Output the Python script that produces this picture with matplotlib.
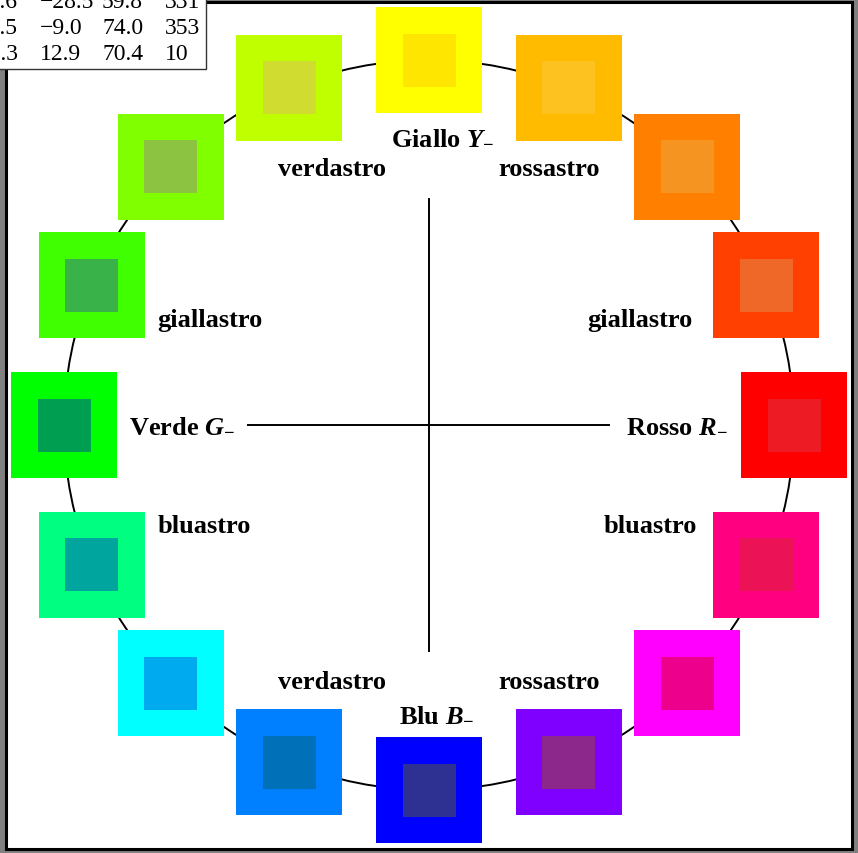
import numpy as np
import matplotlib.pyplot as plt
from matplotlib.patches import Rectangle, Circle

plt.rcParams['font.family'] = ['Liberation Serif', 'DejaVu Serif']
plt.rcParams['mathtext.fontset'] = 'custom'
plt.rcParams['mathtext.rm'] = 'Liberation Serif:bold'
plt.rcParams['mathtext.it'] = 'Liberation Serif:bold:italic'
plt.rcParams['mathtext.bf'] = 'Liberation Serif:bold'

# hue angles of the 16 samples (degrees, counter-clockwise from Rosso)
angles = [90, 67.5, 45, 22.5, 0, -22.5, -45, -67.5,
          -90, -112.5, -135, -157.5, 180, 157.5, 135, 112.5]
outer_cols = ["#ffff00", "#ffbb00", "#ff8000", "#ff4000",
              "#ff0000", "#ff0080", "#ff00ff", "#8000ff",
              "#0000ff", "#0080ff", "#00ffff", "#00ff80",
              "#00ff00", "#40ff00", "#80ff00", "#c0ff00"]
inner_cols = ["#ffe600", "#fdc21f", "#f69422", "#f06828",
              "#ed1c24", "#ec1256", "#ec008c", "#8c288c",
              "#2e3192", "#0070b9", "#00aaee", "#00a69d",
              "#009e50", "#39b24a", "#8cc341", "#d0dc30"]

# labels: text, x, y
lab_text = ["Giallo $Y_{-}$", "verdastro", "rossastro", "giallastro", "giallastro",
            "Verde $G_{-}$", "Rosso $R_{-}$", "bluastro", "bluastro",
            "verdastro", "rossastro", "Blu $B_{-}$"]
lab_x = [443, 332, 549, 210, 640, 182, 677, 204, 650, 332, 549, 437]
lab_y = [138, 169, 169, 321, 321, 426, 426, 527, 527, 683, 683, 715]

# table in the corner (first column partly cut off)
tab_c1 = ["52.6", "73.5", "69.3"]
tab_c2 = ["\u221228.5", "\u22129.0", "12.9"]
tab_c3 = ["59.8", "74.0", "70.4"]
tab_c4 = ["331", "353", "10"]

cx, cy, R = 429, 426, 365
S = 106

fig = plt.figure(figsize=(8.58, 8.54), dpi=100, facecolor="#808080")
ax = fig.add_axes([0, 0, 1, 1])
ax.set_xlim(0, 858)
ax.set_ylim(854, 0)
ax.axis("off")

ax.add_patch(Rectangle((5.5, 3), 846.5, 846.5, facecolor="white",
                       edgecolor="black", lw=2.2, zorder=0))

ax.add_patch(Circle((cx, cy), R, fill=False, edgecolor="black", lw=1.4, zorder=1))
ax.plot([248, 609], [cy, cy], color="black", lw=1.4, zorder=1)
ax.plot([cx, cx], [200, 652], color="black", lw=1.4, zorder=1)

for a, oc, ic in zip(angles, outer_cols, inner_cols):
    x = cx + R * np.cos(np.radians(a))
    y = cy - R * np.sin(np.radians(a))
    ax.add_patch(Rectangle((x - S / 2, y - S / 2), S, S, facecolor=oc,
                           edgecolor="none", zorder=2))
    ax.add_patch(Rectangle((x - S / 4, y - S / 4), S / 2, S / 2, facecolor=ic,
                           edgecolor="none", zorder=3))

for t, x, y in zip(lab_text, lab_x, lab_y):
    ax.text(x, y, t, fontsize=19, fontweight="bold", ha="center", va="center",
            zorder=4)

# table box
ax.add_patch(Rectangle((-5, -5), 211, 75, facecolor="white",
                       edgecolor="#333333", lw=1.0, zorder=5))
row_y = [3, 29, 55]
for i in range(3):
    ax.text(18, row_y[i], tab_c1[i], fontsize=17, ha="right", va="center", zorder=6)
    ax.text(40, row_y[i], tab_c2[i], fontsize=17, ha="left", va="center", zorder=6)
    ax.text(102, row_y[i], tab_c3[i], fontsize=17, ha="left", va="center", zorder=6)
    ax.text(165, row_y[i], tab_c4[i], fontsize=17, ha="left", va="center", zorder=6)

fig.savefig("out.png", dpi=100, facecolor=fig.get_facecolor())
